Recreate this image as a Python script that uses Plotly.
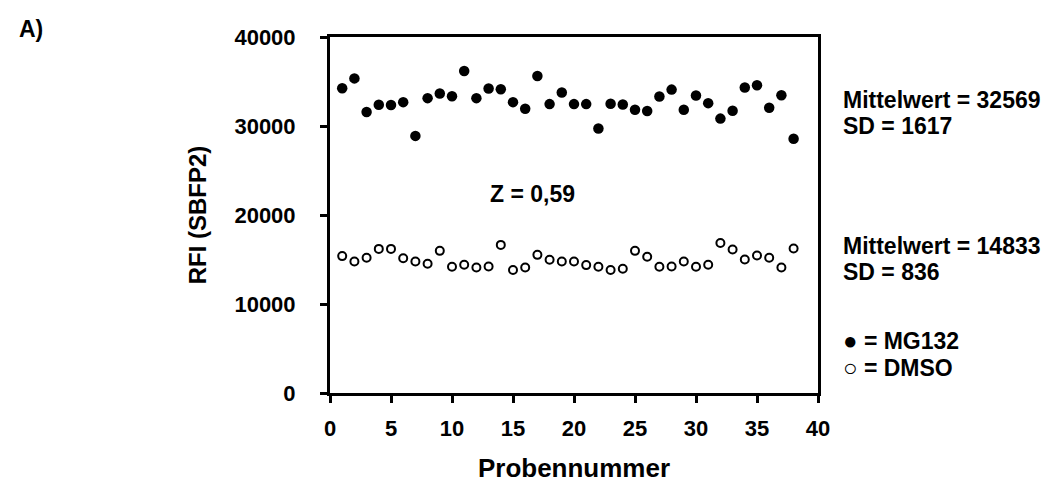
import plotly.graph_objects as go

probe = list(range(1, 39))
mg132 = [34240, 35350, 31570, 32390, 32350, 32680, 28890, 33130, 33650, 33350,
         36180, 33130, 34210, 34130, 32680, 31940, 35620, 32460, 33760, 32460,
         32460, 29710, 32500, 32420, 31830, 31680, 33310, 34090, 31830, 33430,
         32570, 30830, 31720, 34320, 34580, 32050, 33460, 28560]
dmso = [15380, 14780, 15190, 16190, 16190, 15150, 14780, 14520, 15970, 14180,
        14410, 14110, 14220, 16640, 13820, 14110, 15520, 14970, 14780, 14780,
        14370, 14180, 13820, 13960, 15970, 15300, 14180, 14220, 14780, 14180,
        14410, 16860, 16120, 15000, 15450, 15190, 14110, 16230]
x_ticks = [0, 5, 10, 15, 20, 25, 30, 35, 40]
y_ticks = [0, 10000, 20000, 30000, 40000]

FONT = "Liberation Sans, Arial, sans-serif"

fig = go.Figure()
fig.add_trace(go.Scatter(x=probe, y=mg132, mode="markers", name="MG132",
                         marker=dict(size=10.5, color="black", line=dict(width=0)),
                         cliponaxis=False))
fig.add_trace(go.Scatter(x=probe, y=dmso, mode="markers", name="DMSO",
                         marker=dict(size=8, color="white", line=dict(width=2, color="black")),
                         cliponaxis=False))

axis_common = dict(showgrid=False, zeroline=False, showline=True, linecolor="black",
                   linewidth=3, mirror=True, ticks="outside", ticklen=7, tickwidth=3,
                   tickcolor="black",
                   tickfont=dict(family=FONT, size=22, color="black", weight="bold"))

fig.update_xaxes(range=[0, 40], tickvals=x_ticks, ticktext=[str(v) for v in x_ticks],
                 ticklabelstandoff=7,
                 title=dict(text="<b>Probennummer</b>", font=dict(family=FONT, size=26, color="black"),
                            standoff=19),
                 **axis_common)
fig.update_yaxes(range=[0, 40000], tickvals=y_ticks, ticktext=[str(v) for v in y_ticks],
                 ticklabelstandoff=20,
                 title=dict(text="<b>RFI (SBFP2)</b>", font=dict(family=FONT, size=24, color="black"),
                            standoff=22),
                 **axis_common)

fig.add_annotation(x=16.6, y=22400, xref="x", yref="y", text="<b>Z = 0,59</b>",
                   showarrow=False, font=dict(family=FONT, size=23, color="black"),
                   xanchor="center", yanchor="middle")

PW = 1053 - 322 - 243
PH = 483 - 29 - 95
right_x = (834 - 322) / PW


def py(pix):
    return (388 - pix) / PH


ann_font = dict(family=FONT, size=23, color="black")
right_texts = [
    (93.0, "<b>Mittelwert = 32569</b>"),
    (119.0, "<b>SD = 1617</b>"),
    (239.5, "<b>Mittelwert = 14833</b>"),
    (265.5, "<b>SD = 836</b>"),
    (335, "<span style='font-size:24px'>●</span><b> = MG132</b>"),
    (362, "<span style='font-size:24px'>○</span><b> = DMSO</b>"),
]
for ypix, txt in right_texts:
    fig.add_annotation(x=right_x, y=py(ypix), xref="paper", yref="paper", text=txt,
                       showarrow=False, font=ann_font, xanchor="left", yanchor="middle",
                       borderpad=0)

fig.add_annotation(x=(10 - 322) / PW, y=py(21), xref="paper", yref="paper", text="<b>A)</b>",
                   showarrow=False, font=dict(family=FONT, size=23, color="black"),
                   xanchor="left", yanchor="middle", borderpad=0)

fig.update_layout(
    width=1053, height=483,
    margin=dict(l=322, r=243, t=29, b=95),
    paper_bgcolor="white", plot_bgcolor="white",
    showlegend=False,
    font=dict(family=FONT, color="black"),
)

fig.write_html("out.html")
